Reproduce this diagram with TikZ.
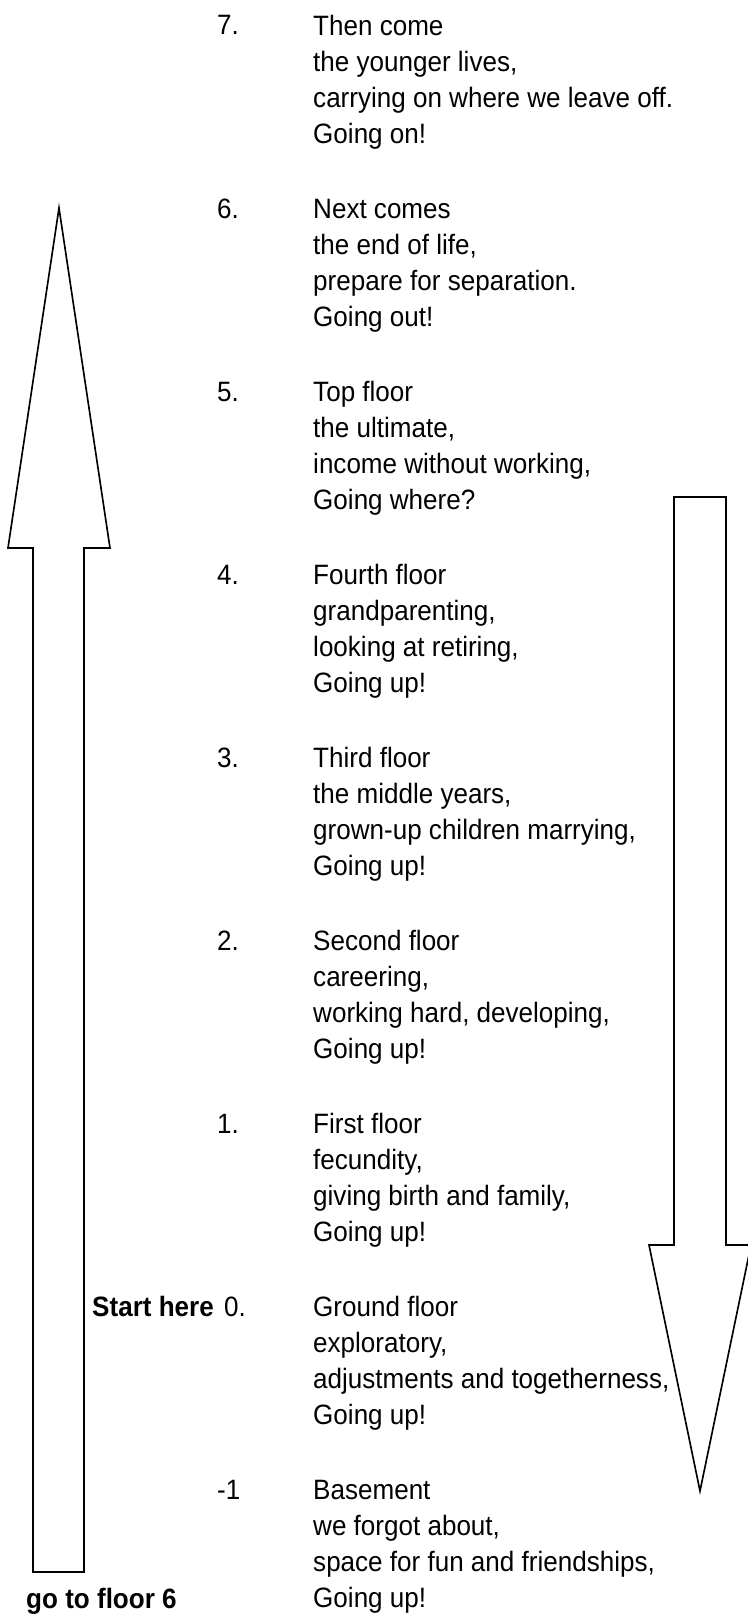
\documentclass[tikz,border=0pt]{standalone}
\usepackage{fontspec}
\setmainfont{Liberation Sans}[FakeStretch=0.93]
\usepackage{tikz}

\begin{document}
\begin{tikzpicture}[scale=0.3]
	\tikzstyle{every node}+=[inner sep=0pt]
	\tikzstyle{floor}=[anchor=base west, align=left, font=\fontsize{23.9pt}{30.7pt}\selectfont]
	\tikzstyle{hint}=[anchor=base west, font=\fontsize{23.9pt}{30.7pt}\selectfont\bfseries]
	\useasboundingbox (0,0) rectangle (74.7,-162);
	% up arrow on the left
	\draw [black, line width=1.4pt] (3.3,-157.2) -- (3.3,-54.8) -- (0.8,-54.8) -- (5.9,-20.8) -- (11.0,-54.8) -- (8.4,-54.8) -- (8.4,-157.2) -- cycle;
	% down arrow on the right
	\draw [black, line width=1.4pt] (67.4,-49.7) -- (72.6,-49.7) -- (72.6,-124.5) -- (75.1,-124.5) -- (70.0,-149.1) -- (64.9,-124.5) -- (67.4,-124.5) -- cycle;
	% floors (text nodes sit on the baseline of their last line)
	\draw (21.7,-3.5) node[floor] (n7) {7.};
	\draw (31.3,-14.3) node[floor] (t7) {Then come\\the younger lives,\\carrying on where we leave off.\\Going on!};
	\draw (21.7,-21.8) node[floor] (n6) {6.};
	\draw (31.3,-32.6) node[floor] (t6) {Next comes\\the end of life,\\prepare for separation.\\Going out!};
	\draw (21.7,-40.1) node[floor] (n5) {5.};
	\draw (31.3,-50.9) node[floor] (t5) {Top floor\\the ultimate,\\income without working,\\Going where?};
	\draw (21.7,-58.4) node[floor] (n4) {4.};
	\draw (31.3,-69.2) node[floor] (t4) {Fourth floor\\grandparenting,\\looking at retiring,\\Going up!};
	\draw (21.7,-76.7) node[floor] (n3) {3.};
	\draw (31.3,-87.5) node[floor] (t3) {Third floor\\the middle years,\\grown-up children marrying,\\Going up!};
	\draw (21.7,-95.0) node[floor] (n2) {2.};
	\draw (31.3,-105.8) node[floor] (t2) {Second floor\\careering,\\working hard, developing,\\Going up!};
	\draw (21.7,-113.3) node[floor] (n1) {1.};
	\draw (31.3,-124.1) node[floor] (t1) {First floor\\fecundity,\\giving birth and family,\\Going up!};
	\draw (22.4,-131.6) node[floor] (n0) {0.};
	\draw (31.3,-142.4) node[floor] (t0) {Ground floor\\exploratory,\\adjustments and togetherness,\\Going up!};
	\draw (21.7,-149.9) node[floor] (nb) {-1};
	\draw (31.3,-160.7) node[floor] (tb) {Basement\\we forgot about,\\space for fun and friendships,\\Going up!};
	% hints
	\draw (9.2,-131.6) node[hint] (start) {Start here};
	\draw (2.6,-160.8) node[hint] (goto) {go to floor 6};
\end{tikzpicture}
\end{document}
